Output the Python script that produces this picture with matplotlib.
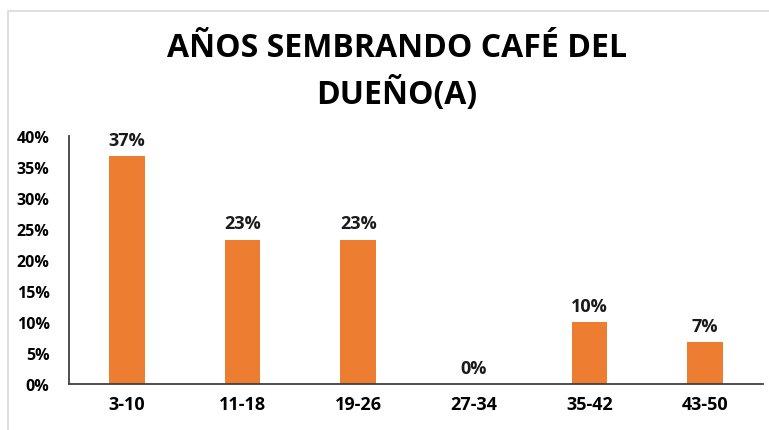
import matplotlib
matplotlib.use("Agg")
import matplotlib.pyplot as plt
from matplotlib.patches import Rectangle

categories = ["3-10", "11-18", "19-26", "27-34", "35-42", "43-50"]
values = [36.7, 23.3, 23.3, 0.0, 10.0, 6.7]
labels = ["37%", "23%", "23%", "0%", "10%", "7%"]
yticks = [0, 5, 10, 15, 20, 25, 30, 35, 40]
title = "AÑOS SEMBRANDO CAFÉ DEL\nDUEÑO(A)"

plt.rcParams['font.family'] = ['Liberation Sans Narrow', 'Open Sans', 'DejaVu Sans']

W, H = 769, 431
fig = plt.figure(figsize=(W/100, H/100), dpi=100)
fig.patches.append(Rectangle((8/W, -0.1), 1.2, 1 - 12/H + 0.1, transform=fig.transFigure,
                             fill=False, edgecolor='#d9d9d9', linewidth=1.2))

ax = fig.add_axes([69/W, 1 - 385/H, (763-69)/W, (385-137)/H])
x = range(len(categories))
ax.bar(x, values, width=0.31, color='#ED7D31')
for xi, v, lab in zip(x, values, labels):
    ax.text(xi, v + 1.2, lab, ha='center', va='bottom', fontsize=13, fontweight='bold', color='#1a1a1a')

ax.set_xlim(-0.5, len(categories) - 0.5)
ax.set_ylim(0, 40)
ax.set_yticks(yticks)
ax.set_yticklabels([f"{t}%" for t in yticks], fontsize=11.5, fontweight='bold')
ax.set_xticks(list(x))
ax.set_xticklabels(categories, fontsize=13, fontweight='bold')
for s in ['top', 'right']:
    ax.spines[s].set_visible(False)
ax.spines['left'].set_color('#404040')
ax.spines['bottom'].set_color('#404040')
ax.spines['left'].set_linewidth(1.3)
ax.spines['bottom'].set_linewidth(1.3)
ax.tick_params(axis='both', length=0, pad=8)
ax.tick_params(axis='y', pad=14)

fig.text(397/W, 1 - 72/H, title, ha='center', va='center', fontsize=23, fontweight='bold',
         linespacing=1.45, color='#000000')

fig.savefig("out.png", dpi=100)
